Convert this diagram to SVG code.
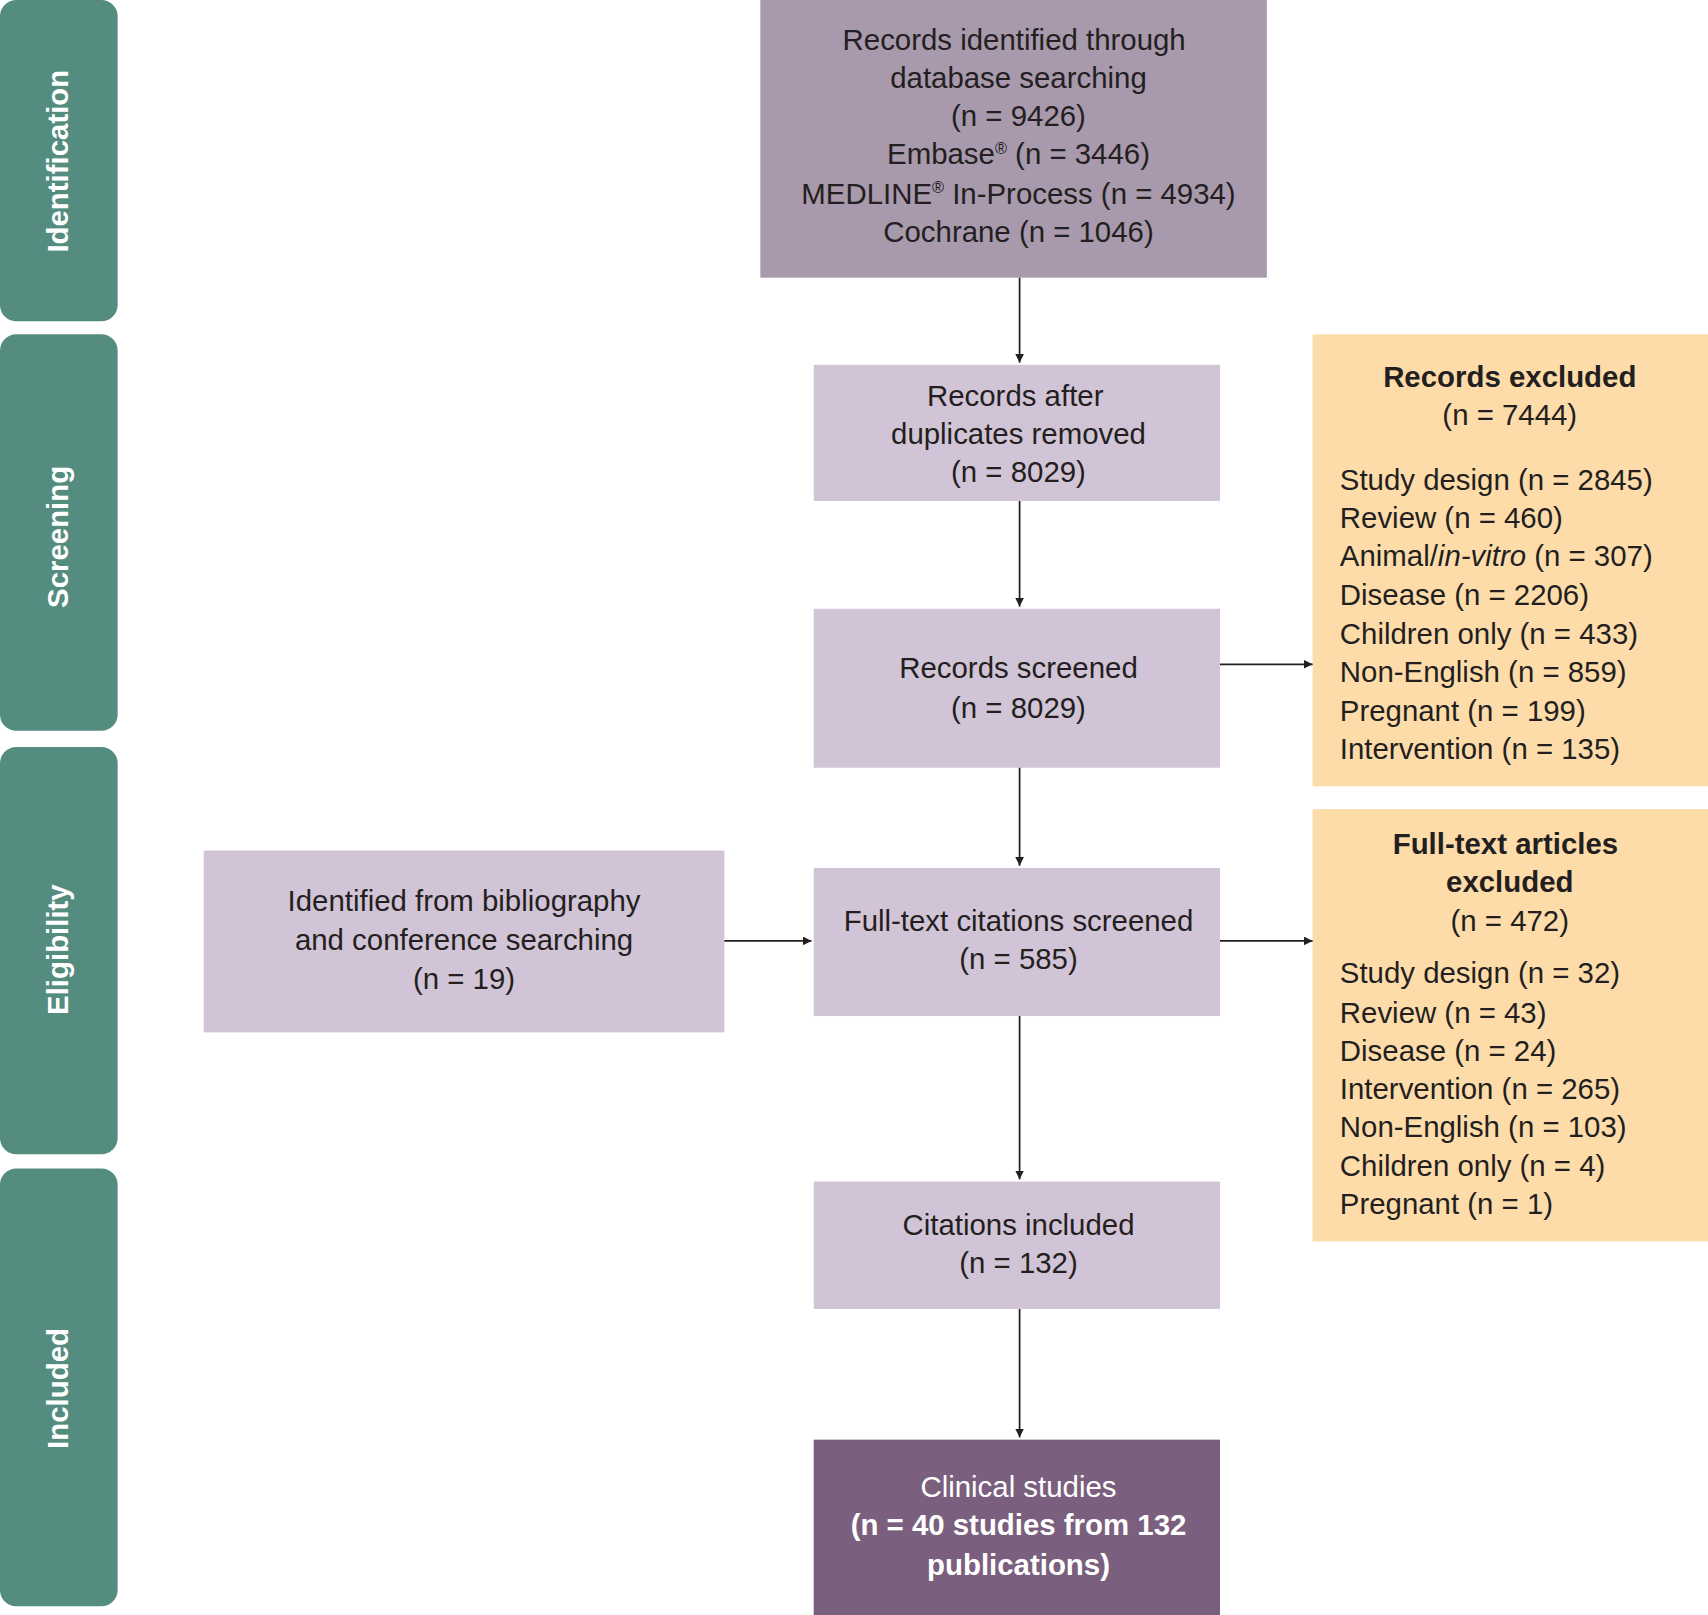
<svg xmlns="http://www.w3.org/2000/svg" width="1708" height="1615" viewBox="0 0 1708 1615">
<defs>
<style>
text{font-family:"Liberation Sans",Arial,sans-serif;font-size:27px;fill:#231f20}
.c{text-anchor:middle}
.b{font-weight:bold}
.tab{fill:#548c80}
.tt{fill:#fff;font-weight:bold;text-anchor:middle}
.lav{fill:#d1c4d6}
.org{fill:#fddcaa}
.ln{stroke:#231f20;stroke-width:1.6;fill:none;marker-end:url(#ah)}
</style>
<marker id="ah" viewBox="0 0 10 10" refX="10" refY="5" markerWidth="8" markerHeight="8" markerUnits="userSpaceOnUse" orient="auto"><path d="M0,0 L10,5 L0,10 z" fill="#231f20"/></marker>
</defs>
<rect width="1708" height="1615" fill="#fff"/>
<g transform="scale(1.0893 1.089)">
<g id="tabs">
<rect class="tab" x="0" y="0" width="108" height="295" rx="15"/>
<rect class="tab" x="0" y="307" width="108" height="364" rx="15"/>
<rect class="tab" x="0" y="686" width="108" height="374" rx="15"/>
<rect class="tab" x="0" y="1073" width="108" height="402" rx="15"/>
<text class="tt" transform="translate(62 148) rotate(-90)">Identification</text>
<text class="tt" transform="translate(62 493) rotate(-90)">Screening</text>
<text class="tt" transform="translate(62 872) rotate(-90)">Eligibility</text>
<text class="tt" transform="translate(62 1275) rotate(-90)">Included</text>
</g>
<g id="n1">
<rect x="698" y="0" width="465" height="255" fill="#a899ad"/>
<text class="c" x="931" y="46">Records identified through</text>
<text class="c" x="935" y="81">database searching</text>
<text class="c" x="935" y="116">(n = 9426)</text>
<text class="c" x="935" y="151">Embase<tspan font-size="15" dy="-10">®</tspan><tspan dy="10"> (n = 3446)</tspan></text>
<text class="c" x="935" y="187">MEDLINE<tspan font-size="15" dy="-10">®</tspan><tspan dy="10"> In-Process (n = 4934)</tspan></text>
<text class="c" x="935" y="222">Cochrane (n = 1046)</text>
</g>
<g id="n2"><rect class="lav" x="747" y="335" width="373" height="125"/>
<text class="c" x="932" y="373">Records after</text><text class="c" x="935" y="408">duplicates removed</text><text class="c" x="935" y="443">(n = 8029)</text></g>
<g id="n3"><rect class="lav" x="747" y="559" width="373" height="146"/>
<text class="c" x="935" y="623">Records screened</text><text class="c" x="935" y="659">(n = 8029)</text></g>
<g id="n4"><rect class="lav" x="747" y="797" width="373" height="136"/>
<text class="c" x="935" y="855">Full-text citations screened</text><text class="c" x="935" y="890">(n = 585)</text></g>
<g id="n5"><rect class="lav" x="187" y="781" width="478" height="167"/>
<text class="c" x="426" y="837">Identified from bibliography</text><text class="c" x="426" y="872">and conference searching</text><text class="c" x="426" y="908">(n = 19)</text></g>
<g id="n6"><rect class="lav" x="747" y="1085" width="373" height="117"/>
<text class="c" x="935" y="1134">Citations included</text><text class="c" x="935" y="1169">(n = 132)</text></g>
<g id="n7"><rect x="747" y="1322" width="373" height="165" fill="#7a5f7e"/>
<text class="c" x="935" y="1375" fill="#fff" style="fill:#fff">Clinical studies</text>
<text class="c b" x="935" y="1410" style="fill:#fff">(n = 40 studies from 132</text>
<text class="c b" x="935" y="1446" style="fill:#fff">publications)</text></g>
<g id="n8"><rect class="org" x="1205" y="307" width="363" height="415"/>
<text class="c b" x="1386" y="355">Records excluded</text><text class="c" x="1386" y="390">(n = 7444)</text>
<text x="1230" y="450">Study design (n = 2845)</text>
<text x="1230" y="485">Review (n = 460)</text>
<text x="1230" y="520">Animal/<tspan font-style="italic">in-vitro</tspan> (n = 307)</text>
<text x="1230" y="556">Disease (n = 2206)</text>
<text x="1230" y="591">Children only (n = 433)</text>
<text x="1230" y="626">Non-English (n = 859)</text>
<text x="1230" y="662">Pregnant (n = 199)</text>
<text x="1230" y="697">Intervention (n = 135)</text></g>
<g id="n9"><rect class="org" x="1205" y="743" width="363" height="397"/>
<text class="c b" x="1382" y="784">Full-text articles</text><text class="c b" x="1386" y="819">excluded</text><text class="c" x="1386" y="855">(n = 472)</text>
<text x="1230" y="903">Study design (n = 32)</text>
<text x="1230" y="939">Review (n = 43)</text>
<text x="1230" y="974">Disease (n = 24)</text>
<text x="1230" y="1009">Intervention (n = 265)</text>
<text x="1230" y="1044">Non-English (n = 103)</text>
<text x="1230" y="1080">Children only (n = 4)</text>
<text x="1230" y="1115">Pregnant (n = 1)</text></g>
<g id="connectors">
<path class="ln" d="M936 255V333"/>
<path class="ln" d="M936 460V557"/>
<path class="ln" d="M936 705V795"/>
<path class="ln" d="M936 933V1083"/>
<path class="ln" d="M936 1202V1320"/>
<path class="ln" d="M1120 610H1205"/>
<path class="ln" d="M1120 864H1205"/>
<path class="ln" d="M665 864H745"/>
</g>
</g>
</svg>
